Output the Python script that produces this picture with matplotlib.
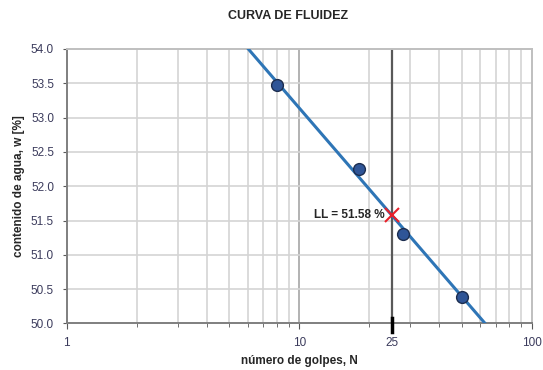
import numpy as np
import matplotlib.pyplot as plt
from matplotlib.ticker import FixedLocator, NullFormatter

plt.rcParams['font.family'] = ['Liberation Sans Narrow', 'Liberation Sans', 'DejaVu Sans']

# ensayo de Casagrande
golpes = [8, 18, 28, 50]
humedad = [53.48, 52.25, 51.31, 50.39]
N_LL = 25
LL = 51.58

# ajuste semilogaritmico
coef = np.polyfit(np.log10(golpes), humedad, 1)
n_fit = np.logspace(0, 2, 200)
w_fit = np.polyval(coef, np.log10(n_fit))

fig = plt.figure(figsize=(5.43, 3.70), dpi=100)
ax = fig.add_axes([0.1225, 0.1259, 0.8572, 0.7417])

ax.set_xscale('log')
ax.set_xlim(1, 100)
ax.set_ylim(50, 54)

minor = [m * 10 ** e for e in range(0, 2) for m in range(2, 10)]
ax.xaxis.set_major_locator(FixedLocator([1, 10, 25, 100]))
ax.set_xticklabels(['1', '10', '25', '100'])
ax.xaxis.set_minor_locator(FixedLocator(minor))
ax.xaxis.set_minor_formatter(NullFormatter())
ax.set_yticks(np.arange(50, 54.01, 0.5))
ax.set_yticklabels([f'{v:.1f}' for v in np.arange(50, 54.01, 0.5)])

# rejilla
for x in minor:
    ax.axvline(x, color='#d4d4d4', lw=1.2, zorder=0)
ax.axvline(10, color='#a6a6a6', lw=1.2, zorder=0)
for y in np.arange(50.5, 54.0, 0.5):
    ax.axhline(y, color='#d4d4d4', lw=1.2, zorder=0)
ax.axvline(N_LL, color='#595959', lw=1.6, zorder=1)
ax.plot([N_LL, N_LL], [49.88, 50.08], color='black', lw=2.5,
        clip_on=False, zorder=5)

for s in ['left', 'bottom']:
    ax.spines[s].set_color('#7f7f7f')
    ax.spines[s].set_linewidth(1.4)
for s in ['top', 'right']:
    ax.spines[s].set_color('#bfbfbf')
    ax.spines[s].set_linewidth(1.4)

ax.tick_params(axis='both', which='both', direction='out', color='#595959',
               labelsize=8.5, labelcolor='#3b3b5c')
ax.tick_params(axis='x', which='major', length=4, pad=6)
ax.tick_params(axis='x', which='minor', length=3)
ax.tick_params(axis='y', length=3, pad=6)

ax.plot(n_fit, w_fit, color='#2e75b6', lw=2.2, zorder=3)
ax.plot(golpes, humedad, 'o', ms=8.5, mfc='#2f5597', mec='#1c2d4f',
        mew=1.0, zorder=4)
ax.plot(N_LL, LL, 'x', ms=10, mew=1.5, color='#e8202a', zorder=5)
ax.text(N_LL / 1.07, LL, f'LL = {LL:.2f} %', ha='right', va='center',
        fontsize=8.5, fontweight='bold', color='#262626')

ax.set_xlabel('número de golpes, N', fontsize=8.5, fontweight='bold',
              color='#262626', labelpad=4)
ax.set_ylabel('contenido de agua, w [%]', fontsize=8.5, fontweight='bold',
              color='#262626', labelpad=4)
fig.text(0.53, 0.957, 'CURVA DE FLUIDEZ', ha='center', va='center',
         fontsize=9, fontweight='bold', color='#262626')

fig.savefig('out.png', dpi=100)
